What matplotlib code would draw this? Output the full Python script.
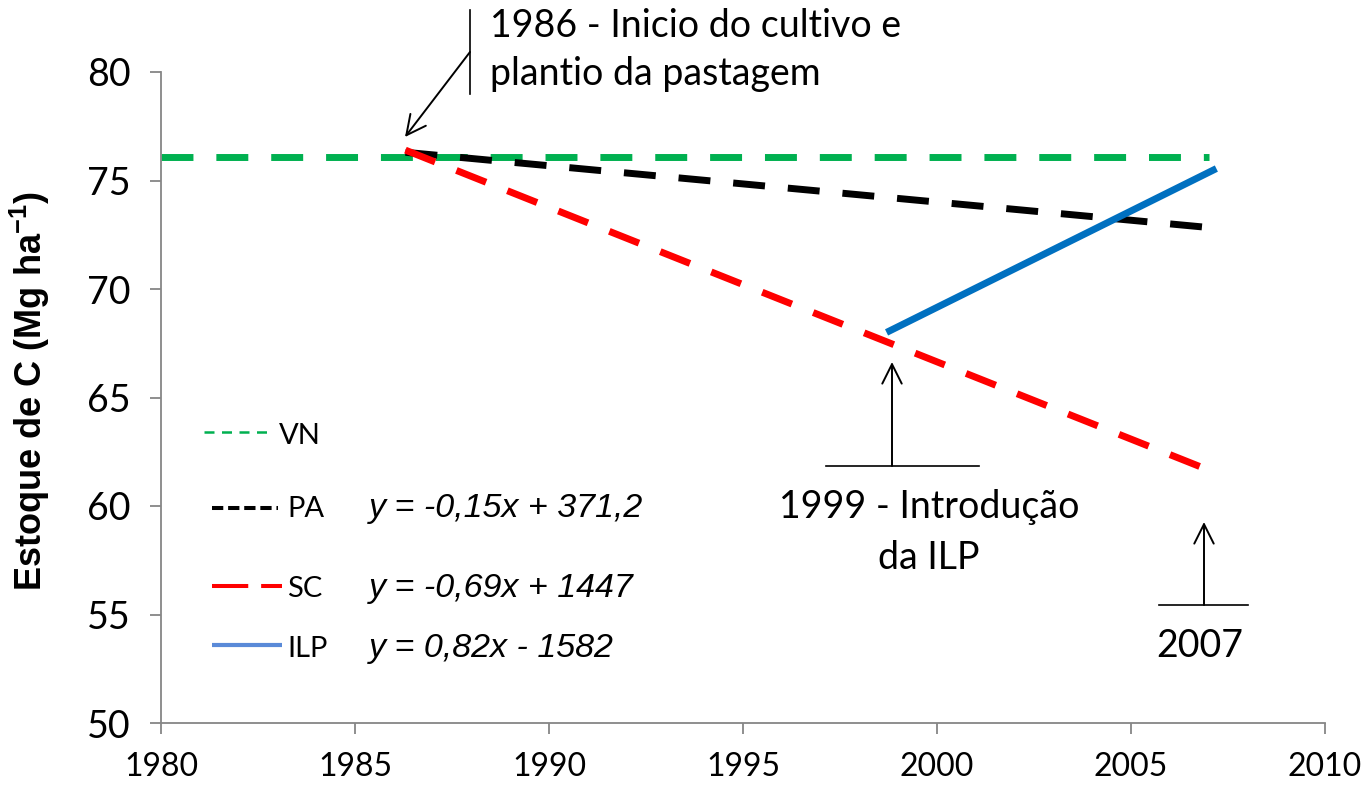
import matplotlib
matplotlib.use("Agg")
import matplotlib.pyplot as plt
from matplotlib.lines import Line2D

# Carbon stock (Mg/ha) for each land use
years_vn = [1980, 2007.0]
estoque_vn = [76.1, 76.1]

years_pa = [1986.3, 2007.2]
estoque_pa = [76.3, 72.8]

years_sc = [1986.3, 2006.8]
estoque_sc = [76.4, 61.8]

years_ilp = [1998.7, 2007.2]
estoque_ilp = [68.0, 75.55]

legend_labels = ["VN", "PA", "SC", "ILP"]
equations = ["", "y = -0,15x + 371,2", "y = -0,69x + 1447", "y = 0,82x - 1582"]

x_ticks = [1980, 1985, 1990, 1995, 2000, 2005, 2010]
y_ticks = [50, 55, 60, 65, 70, 75, 80]

plt.rcParams["mathtext.fontset"] = "custom"
plt.rcParams["mathtext.rm"] = "Liberation Sans"
plt.rcParams["mathtext.bf"] = "Liberation Sans:bold"
plt.rcParams["mathtext.it"] = "Liberation Sans:italic"

W, H = 1363, 785
L, R, T, B = 161, 1325, 72, 723

fig = plt.figure(figsize=(W / 100, H / 100), dpi=100)
ax = fig.add_axes([L / W, 1 - B / H, (R - L) / W, (B - T) / H])


def px(x, y):
    # pixel position in the picture -> axes fraction
    return (x - L) / (R - L), (B - y) / (B - T)


lw = 5.0
dash = (4.6, 3.3)
ax.plot(years_vn, estoque_vn, color="#00B050", lw=lw, dashes=dash)
ax.plot(years_pa, estoque_pa, color="black", lw=lw, dashes=dash)
ax.plot(years_sc, estoque_sc, color="#FF0000", lw=lw, dashes=dash)
ax.plot(years_ilp, estoque_ilp, color="#0070C0", lw=lw, solid_capstyle="butt")

ax.set_xlim(1980, 2010)
ax.set_ylim(50, 80)
ax.set_xticks(x_ticks)
ax.set_yticks(y_ticks)

for side in ["top", "right"]:
    ax.spines[side].set_visible(False)
for side in ["left", "bottom"]:
    ax.spines[side].set_color("#868686")
    ax.spines[side].set_linewidth(1.3)

ax.tick_params(axis="both", direction="out", length=8, width=1.3,
               color="#868686")
ax.tick_params(axis="y", pad=14, labelsize=27)
ax.tick_params(axis="x", pad=13, labelsize=23)
for lab in ax.get_xticklabels() + ax.get_yticklabels():
    lab.set_fontfamily("Lato")

fig.text(30 / W, 1 - 391 / H, r"Estoque de C (Mg ha$^{\mathbf{-1}}$)",
         rotation=90, ha="center", va="center", fontsize=26,
         fontweight="bold", family="Liberation Sans")

# legend drawn by hand, like the original
legend_rows = [
    dict(x0=204, x1=273, y=432, tx=279, ty=444, color="#00B050", lw=1.8, dashes=(4, 3)),
    dict(x0=212, x1=278, y=508, tx=287, ty=517, color="black", lw=2.9, dashes=(2.8, 1.2)),
    dict(x0=212, x1=282, y=586, tx=287, ty=597, color="#FF0000", lw=2.9, dashes=(9, 3.2)),
    dict(x0=212, x1=282, y=645, tx=287, ty=657, color="#5A8AD8", lw=3.0, dashes=None),
]
for row, label, eq in zip(legend_rows, legend_labels, equations):
    a = px(row["x0"], row["y"])
    b = px(row["x1"], row["y"])
    line = Line2D([a[0], b[0]], [a[1], b[1]], transform=ax.transAxes,
                  color=row["color"], lw=row["lw"])
    if row["dashes"]:
        line.set_dashes(row["dashes"])
    else:
        line.set_solid_capstyle("butt")
    ax.add_line(line)
    tx, ty = px(row["tx"], row["ty"])
    ax.text(tx, ty, label, transform=ax.transAxes, fontsize=21,
            family="Lato", va="baseline", ha="left")
    if eq:
        ex, ey = px(369, row["ty"])
        ax.text(ex, ey, eq, transform=ax.transAxes, fontsize=24.5,
                family="Liberation Sans", style="italic",
                va="baseline", ha="left")

# annotations
note_font = dict(family="Lato", fontsize=27, color="black")
arrow = dict(arrowstyle="->,head_length=0.7,head_width=0.35", lw=1.4,
             color="black", shrinkA=0, shrinkB=0, mutation_scale=20)
thin = dict(color="black", lw=1.2, transform=ax.transAxes, clip_on=False)

# 1986
ax.plot(*zip(px(470, 10), px(470, 94)), **thin)
ax.annotate("", xy=px(405, 137), xytext=px(470, 52), xycoords="axes fraction",
            arrowprops=arrow, annotation_clip=False)
ax.text(*px(490, 37), "1986 - Inicio do cultivo e", transform=ax.transAxes,
        va="baseline", ha="left", **note_font)
ax.text(*px(490, 85), "plantio da pastagem", transform=ax.transAxes,
        va="baseline", ha="left", **note_font)

# 1999
ax.plot(*zip(px(826, 466), px(979, 466)), **thin)
ax.annotate("", xy=px(892, 362), xytext=px(892, 466), xycoords="axes fraction",
            arrowprops=arrow, annotation_clip=False)
ax.text(*px(929, 518), "1999 - Introdução", transform=ax.transAxes,
        va="baseline", ha="center", **note_font)
ax.text(*px(929, 569), "da ILP", transform=ax.transAxes,
        va="baseline", ha="center", **note_font)

# 2007
ax.plot(*zip(px(1159, 605), px(1248, 605)), **thin)
ax.annotate("", xy=px(1204, 522), xytext=px(1204, 605), xycoords="axes fraction",
            arrowprops=arrow, annotation_clip=False)
ax.text(*px(1200, 657), "2007", transform=ax.transAxes,
        va="baseline", ha="center", **note_font)

fig.savefig("out.png", dpi=100)
